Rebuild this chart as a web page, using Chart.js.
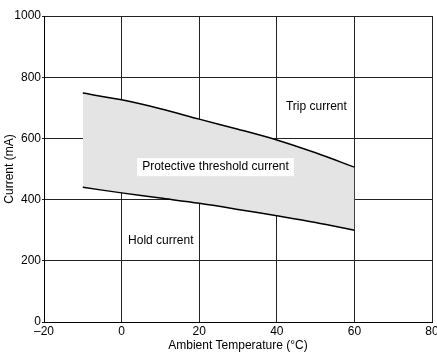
<!DOCTYPE html>
<html>
<head>
<meta charset="utf-8">
<script src="https://cdn.jsdelivr.net/npm/chart.js@4.4.0/dist/chart.umd.min.js"></script>
<style>
  html, body { margin: 0; padding: 0; background: #fff; }
  #wrap { width: 437px; height: 354px; }
</style>
</head>
<body>
<div id="wrap"><canvas id="chart" width="437" height="354"></canvas></div>
<script>
// Temperature points (°C)
const temps = [-10, 0, 10, 20, 30, 40, 50, 60];
// Trip current (upper curve), mA
const tripCurrent = [748, 726, 697, 663, 630, 595, 553, 506];
// Hold current (lower curve), mA
const holdCurrent = [440, 422, 405, 388, 368, 347, 325, 300];

const xTicks = [-20, 0, 20, 40, 60, 80];
const yTicks = [0, 200, 400, 600, 800, 1000];

// text annotations, in data units
const notes = [
    { text: 'Trip current', x: 50.2, y: 704, box: false },
    { text: 'Protective threshold current', x: 24.2, y: 506, box: true },
    { text: 'Hold current', x: 10.1, y: 265, box: false }
];

const FONT = '"Liberation Sans", Arial, sans-serif';
Chart.defaults.font.family = FONT;
Chart.defaults.font.size = 12;
Chart.defaults.color = '#000';

const notesPlugin = {
    id: 'notes',
    afterDatasetsDraw(chart) {
        const ctx = chart.ctx;
        const xs = chart.scales.x, ys = chart.scales.y;
        ctx.save();
        ctx.font = '12px ' + FONT;
        ctx.textAlign = 'center';
        ctx.textBaseline = 'middle';
        notes.forEach(n => {
            const px = xs.getPixelForValue(n.x);
            const py = ys.getPixelForValue(n.y);
            if (n.box) {
                const w = ctx.measureText(n.text).width + 10;
                ctx.fillStyle = '#fff';
                ctx.fillRect(px - w / 2, py - 9, w, 18);
            }
            ctx.fillStyle = '#000';
            ctx.fillText(n.text, px, py);
        });
        ctx.restore();
    }
};

const ctx = document.getElementById('chart').getContext('2d');
new Chart(ctx, {
    type: 'line',
    data: {
        datasets: [
            {
                label: 'Hold current',
                data: temps.map((t, i) => ({ x: t, y: holdCurrent[i] })),
                borderColor: '#000',
                borderWidth: 1.5,
                pointRadius: 0,
                tension: 0.3,
                fill: false
            },
            {
                label: 'Trip current',
                data: temps.map((t, i) => ({ x: t, y: tripCurrent[i] })),
                borderColor: '#000',
                borderWidth: 1.5,
                backgroundColor: '#e4e4e4',
                pointRadius: 0,
                tension: 0.3,
                fill: '-1'
            }
        ]
    },
    options: {
        responsive: false,
        animation: false,
        layout: {
            padding: { left: 0, right: 5, top: 16, bottom: 0 }
        },
        scales: {
            x: {
                type: 'linear',
                min: -20,
                max: 80,
                afterBuildTicks: axis => { axis.ticks = xTicks.map(v => ({ value: v })); },
                afterFit: axis => { axis.height = 32; axis.paddingLeft = 0; axis.paddingRight = 0; },
                border: { color: '#000', width: 1 },
                grid: { color: '#222', lineWidth: 1, drawTicks: false },
                ticks: {
                    padding: 2,
                    maxRotation: 0,
                    callback: v => String(v).replace('-', '\u2013')
                },
                title: {
                    display: true,
                    text: 'Ambient Temperature (\u00b0C)',
                    padding: { top: 0, bottom: 1 }
                }
            },
            y: {
                min: 0,
                max: 1000,
                afterBuildTicks: axis => { axis.ticks = yTicks.map(v => ({ value: v })); },
                afterFit: axis => { axis.width = 44; axis.paddingTop = 0; axis.paddingBottom = 0; },
                border: { color: '#000', width: 1 },
                grid: { color: '#222', lineWidth: 1, tickLength: 2 },
                ticks: { padding: 1, callback: v => String(v) },
                title: {
                    display: true,
                    text: 'Current (mA)',
                    padding: { top: 2, bottom: 0 }
                }
            }
        },
        plugins: {
            legend: { display: false },
            tooltip: { enabled: false }
        }
    },
    plugins: [notesPlugin]
});
</script>
</body>
</html>
